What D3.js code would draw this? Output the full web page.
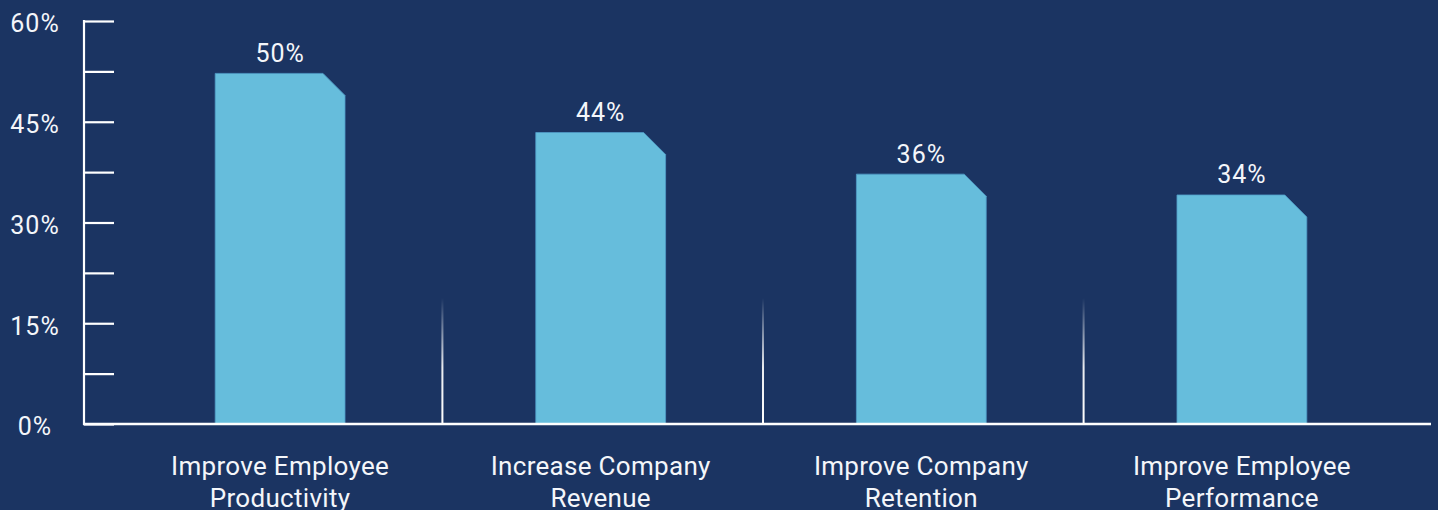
<!DOCTYPE html>
<html>
<head>
<meta charset="utf-8">
<script src="https://cdn.jsdelivr.net/npm/d3@7"></script>
<style>
  html, body { margin: 0; padding: 0; background: #1b3462; }
  svg { display: block; font-family: Roboto, "Noto Sans", sans-serif; }
</style>
</head>
<body>
<svg id="chart"></svg>
<script>
// data
const categories = [
    ['Improve Employee', 'Productivity'],
    ['Increase Company', 'Revenue'],
    ['Improve Company', 'Retention'],
    ['Improve Employee', 'Performance']
];
// drawn bar heights (percent) and the labels printed above them
const barValues = [52.2, 43.4, 37.2, 34.1];
const barLabels = ['50%', '44%', '36%', '34%'];
const yTicks = [0, 7.5, 15, 22.5, 30, 37.5, 45, 52.5, 60];

const w = 1438;
const h = 510;
const axisX = 84;
const chamfer = 22;

const svg = d3.select('#chart')
    .attr('width', w)
    .attr('height', h);

svg.append('rect')
    .attr('width', w)
    .attr('height', h)
    .attr('fill', '#1b3462');

const y = d3.scaleLinear().domain([0, 60]).range([424, 21]);

const keys = categories.map((c, i) => i);
const x = d3.scaleBand()
    .domain(keys)
    .range([119, 1403])
    .paddingInner(0.595)
    .paddingOuter(0.3);

// gradient for the faint separators
const defs = svg.append('defs');
const grad = defs.append('linearGradient')
    .attr('id', 'sepGrad')
    .attr('x1', 0).attr('y1', 0).attr('x2', 0).attr('y2', 1);
grad.append('stop').attr('offset', '0%').attr('stop-color', '#fff').attr('stop-opacity', 0);
grad.append('stop').attr('offset', '55%').attr('stop-color', '#fff').attr('stop-opacity', 0.9);
grad.append('stop').attr('offset', '100%').attr('stop-color', '#fff').attr('stop-opacity', 1);

// separators between categories
const sepX = keys.slice(1).map(k => x(k) - x.step() * x.paddingInner() / 2 + 2);
svg.selectAll('.sep')
    .data(sepX)
    .join('rect')
        .attr('class', 'sep')
        .attr('x', d => d - 1)
        .attr('y', 298)
        .attr('width', 2)
        .attr('height', y(0) - 298)
        .attr('fill', 'url(#sepGrad)');

// bars with a clipped top-right corner
svg.selectAll('.bar')
    .data(barValues)
    .join('path')
        .attr('class', 'bar')
        .attr('d', (d, i) => {
            const x0 = x(i);
            const x1 = x(i) + x.bandwidth();
            const top = y(d);
            const bot = y(0);
            return `M${x0},${bot}L${x0},${top}L${x1 - chamfer},${top}L${x1},${top + chamfer}L${x1},${bot}Z`;
        })
        .attr('fill', '#66bddc')
        .attr('stroke', '#4f9bc6')
        .attr('stroke-width', 0.8);

svg.selectAll('.val')
    .data(barValues)
    .join('text')
        .attr('class', 'val')
        .attr('x', (d, i) => x(i) + x.bandwidth() / 2)
        .attr('y', d => y(d) - 11.5)
        .attr('text-anchor', 'middle')
        .attr('fill', '#f4f6fa')
        .style('font-size', '25px')
        .style('letter-spacing', '1px')
        .text((d, i) => barLabels[i]);

// y axis
const yAxis = d3.axisLeft(y)
    .tickValues(yTicks)
    .tickSize(-30)
    .tickFormat(d => d % 15 === 0 ? d + '%' : '');

const gy = svg.append('g')
    .attr('transform', `translate(${axisX},0)`)
    .call(yAxis);

gy.select('.domain').remove();
gy.selectAll('.tick line')
    .attr('stroke', '#fff')
    .attr('stroke-width', 2.2);
gy.selectAll('.tick text')
    .attr('x', 35 - axisX)
    .attr('dy', '0.35em')
    .attr('y', 2)
    .attr('text-anchor', 'middle')
    .attr('fill', '#f4f6fa')
    .style('font-size', '25px')
    .style('letter-spacing', '1px')
    .style('font-family', 'Roboto, "Noto Sans", sans-serif');
gy.selectAll('.tick').attr('transform', d => `translate(0,${y(d) + 0.5})`);

// axis lines
svg.append('line')
    .attr('x1', axisX).attr('x2', axisX)
    .attr('y1', y(60) - 1).attr('y2', y(0) + 1)
    .attr('stroke', '#fff')
    .attr('stroke-width', 2.2);
svg.append('line')
    .attr('x1', axisX - 1).attr('x2', 1431)
    .attr('y1', y(0)).attr('y2', y(0))
    .attr('stroke', '#fff')
    .attr('stroke-width', 2.5);

// category labels
const cat = svg.selectAll('.cat')
    .data(categories)
    .join('text')
        .attr('class', 'cat')
        .attr('text-anchor', 'middle')
        .attr('fill', '#f4f6fa')
        .style('font-size', '26px')
        .style('letter-spacing', '0.3px');

cat.selectAll('tspan')
    .data((d, i) => d.map(line => ({line, i})))
    .join('tspan')
        .attr('x', d => x(d.i) + x.bandwidth() / 2)
        .attr('y', (d, j) => 474.5 + j * 32)
        .text(d => d.line);
</script>
</body>
</html>
